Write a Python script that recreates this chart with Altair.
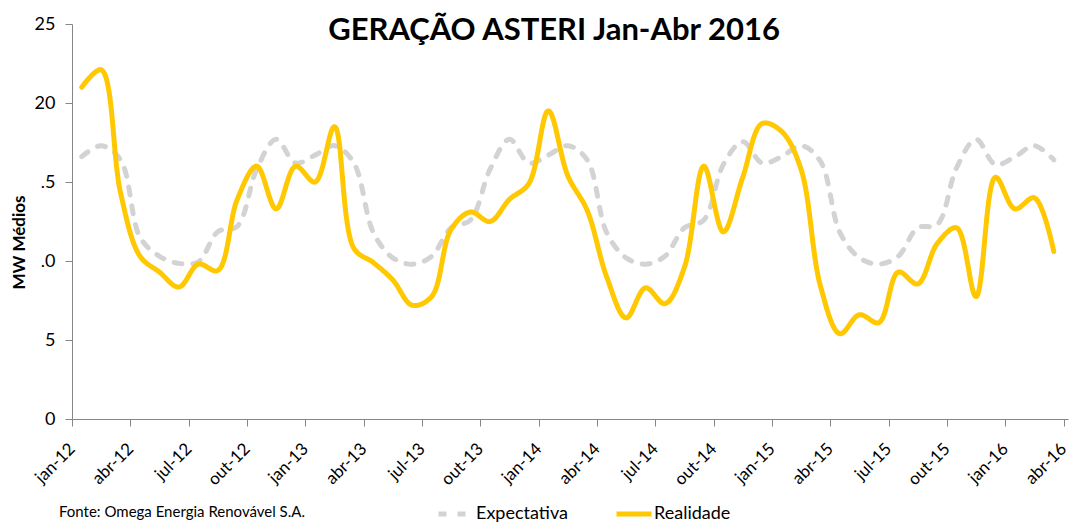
import altair as alt
import pandas as pd
import json

months = ["jan-12", "fev-12", "mar-12", "abr-12", "mai-12", "jun-12", "jul-12", "ago-12", "set-12", "out-12", "nov-12", "dez-12",
          "jan-13", "fev-13", "mar-13", "abr-13", "mai-13", "jun-13", "jul-13", "ago-13", "set-13", "out-13", "nov-13", "dez-13",
          "jan-14", "fev-14", "mar-14", "abr-14", "mai-14", "jun-14", "jul-14", "ago-14", "set-14", "out-14", "nov-14", "dez-14",
          "jan-15", "fev-15", "mar-15", "abr-15", "mai-15", "jun-15", "jul-15", "ago-15", "set-15", "out-15", "nov-15", "dez-15",
          "jan-16", "fev-16", "mar-16"]

realidade = [21.0, 22.1, 14.3, 10.3, 9.3, 8.35, 9.8, 9.4, 13.9, 16.0, 13.3, 16.0,
             15.0, 18.5, 10.8, 9.9, 8.8, 7.2, 7.75, 12.0, 13.1, 12.5, 13.9, 14.9,
             19.5, 15.4, 13.2, 9.0, 6.4, 8.3, 7.3, 9.6, 16.0, 11.85, 15.3, 18.7,
             18.2, 15.8, 8.4, 5.4, 6.6, 6.1, 9.3, 8.55, 11.1, 12.1, 7.75, 15.3,
             13.3, 14.0, 10.6]

expectativa = [16.6, 17.3, 16.4, 11.5, 10.3, 9.85, 9.95, 11.85, 12.2, 15.8, 17.7, 16.2,
               16.7, 17.3, 16.2, 11.8, 10.2, 9.8, 10.3, 12.1, 12.6, 15.8, 17.7, 16.2,
               16.7, 17.3, 16.4, 11.8, 10.2, 9.8, 10.3, 12.1, 12.6, 16.1, 17.55, 16.2,
               16.6, 17.3, 16.3, 11.8, 10.2, 9.8, 10.3, 12.1, 12.3, 15.9, 17.7, 16.1,
               16.6, 17.3, 16.4]

x_tick_labels = ["jan-12", "abr-12", "jul-12", "out-12", "jan-13", "abr-13", "jul-13", "out-13",
                 "jan-14", "abr-14", "jul-14", "out-14", "jan-15", "abr-15", "jul-15", "out-15",
                 "jan-16", "abr-16"]
y_tick_values = [0, 5, 10, 15, 20, 25]
y_tick_labels = ["0", "5", ".0", ".5", "20", "25"]

series_names = ["Expectativa", "Realidade"]
series_colors = ["#D3D3D3", "#FFC800"]
series_dashes = [[8, 11], [1, 0]]

title_text = ["GERAÇÃO ASTERI Jan-Abr 2016"]
y_title = "MW Médios"
source_note = ["Fonte: Omega Energia Renovável S.A."]

FONT = "Lato"
AXIS_GREY = "#868686"

rows = []
for i, m in enumerate(months):
    rows.append({"mes": m, "pos": i + 0.5, "serie": "Expectativa", "valor": expectativa[i]})
    rows.append({"mes": m, "pos": i + 0.5, "serie": "Realidade", "valor": realidade[i]})
df = pd.DataFrame(rows)

x_tick_values = [3 * k for k in range(len(x_tick_labels))]
x_label_expr = json.dumps(x_tick_labels) + "[round(datum.value / 3)]"
y_label_expr = json.dumps(y_tick_labels) + "[round(datum.value / 5)]"

legend = alt.Legend(
    title=None, orient="none", legendX=364, legendY=470, direction="horizontal",
    symbolType="stroke", symbolSize=1225, symbolStrokeWidth=5,
    labelFont=FONT, labelFontSize=18, labelColor="#000000", labelOffset=0,
    columnPadding=38, padding=0,
)

lines = alt.Chart(df).mark_line(
    interpolate="catmull-rom", strokeWidth=5, strokeCap="round", strokeJoin="round"
).encode(
    x=alt.X("pos:Q",
            scale=alt.Scale(domain=[0, 51.23], nice=False, zero=False),
            axis=alt.Axis(values=x_tick_values, labelExpr=x_label_expr, title=None,
                          labelAngle=-45, labelAlign="right", labelBaseline="middle",
                          labelFont=FONT, labelFontSize=17, labelColor="#000000",
                          labelOffset=0, labelPadding=20, labelFlush=False, labelOverlap=False,
                          tickSize=7, tickColor=AXIS_GREY, domainColor=AXIS_GREY, grid=False)),
    y=alt.Y("valor:Q",
            scale=alt.Scale(domain=[0, 25], nice=False),
            axis=alt.Axis(values=y_tick_values, labelExpr=y_label_expr,
                          title=y_title, titleFont=FONT, titleFontSize=17, titleFontWeight="bold",
                          titleColor="#000000", titleAngle=270, titleX=-53, titleY=218,
                          titleAlign="center", titleBaseline="middle",
                          labelFont=FONT, labelFontSize=18, labelColor="#000000", labelPadding=10,
                          tickSize=7, tickColor=AXIS_GREY, domainColor=AXIS_GREY, grid=False)),
    color=alt.Color("serie:N", scale=alt.Scale(domain=series_names, range=series_colors), legend=legend),
    strokeDash=alt.StrokeDash("serie:N", scale=alt.Scale(domain=series_names, range=series_dashes), legend=legend),
)

note = alt.Chart(pd.DataFrame({"t": source_note})).mark_text(
    align="left", baseline="middle", font=FONT, fontSize=15, color="#000000"
).encode(x=alt.value(-13), y=alt.value(488), text="t:N")

title = alt.Chart(pd.DataFrame({"t": title_text})).mark_text(
    align="center", baseline="alphabetic", font=FONT, fontSize=31, fontWeight="bold", color="#000000"
).encode(x=alt.value(482), y=alt.value(16), text="t:N")

chart = alt.layer(lines, note, title).properties(
    width=996, height=395,
    autosize=alt.AutoSizeParams(type="none"),
    padding={"left": 64, "top": 16, "right": 2, "bottom": 103},
).configure_view(stroke=None)

chart.save("out.html", embed_options={"renderer": "svg", "actions": False})
